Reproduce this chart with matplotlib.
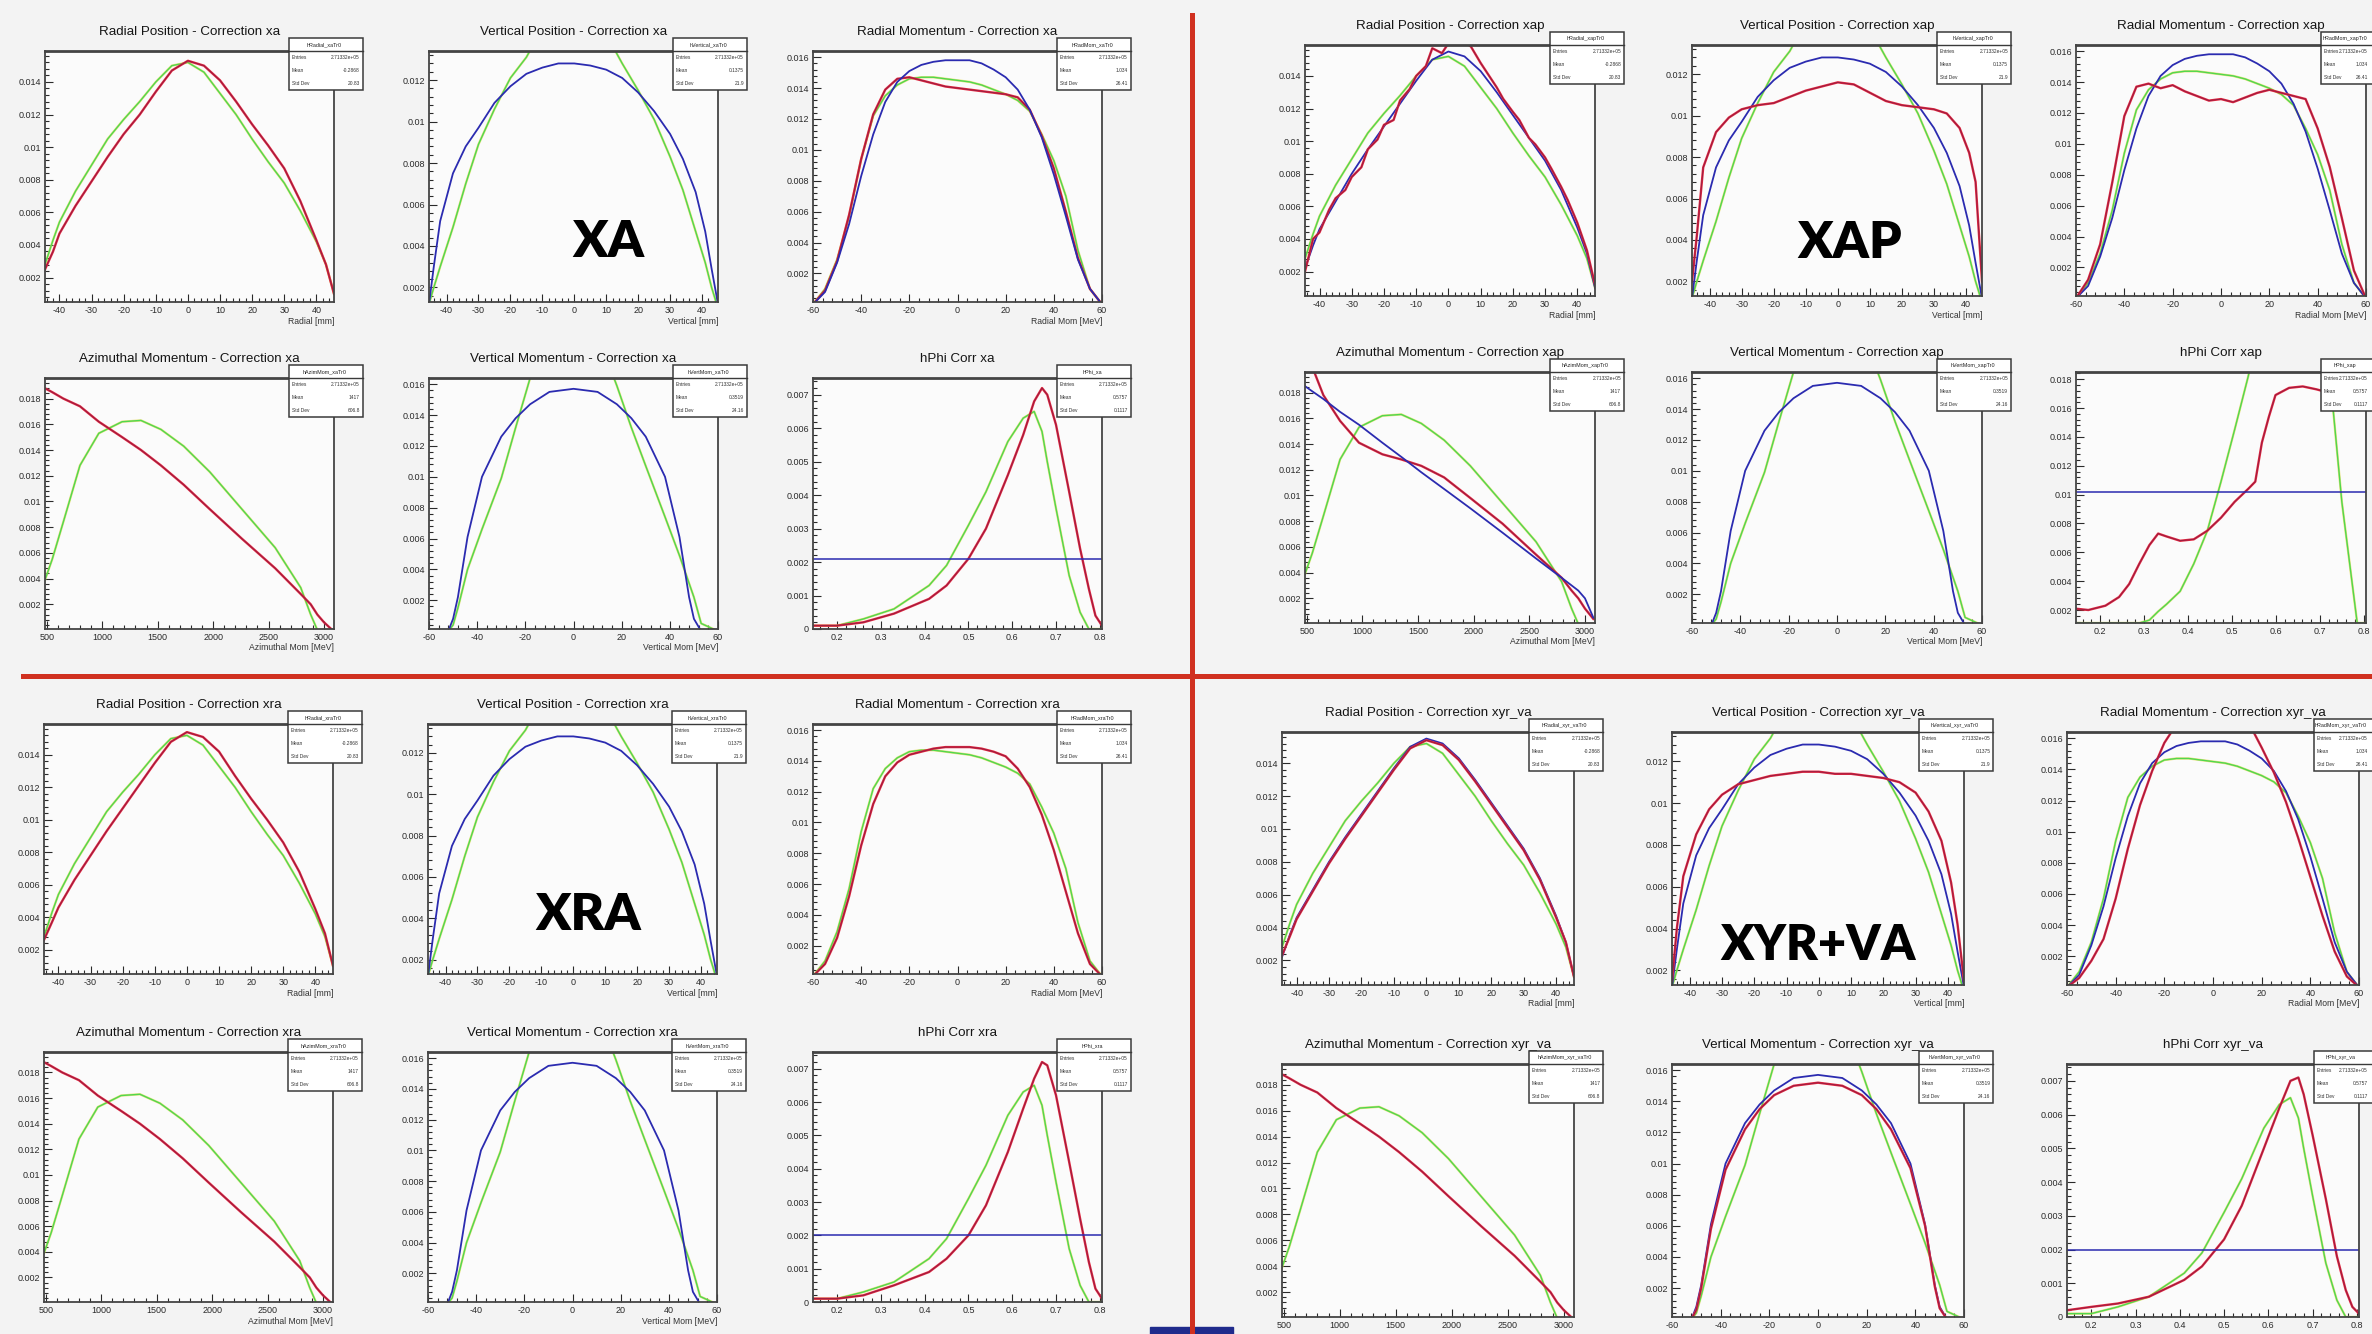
import matplotlib
matplotlib.use("Agg")
import matplotlib.pyplot as plt
from matplotlib.lines import Line2D
from matplotlib.patches import Rectangle
from matplotlib.ticker import AutoMinorLocator, FuncFormatter, MultipleLocator

plt.rcParams["font.family"] = ["Liberation Sans", "DejaVu Sans"]

W, H, DPI = 2372, 1334, 100

# ---------------- histogram contents (normalised) ----------------
# radial position [mm]
rp_x = [-44.5, -42, -40, -35, -30, -25, -20, -15, -10, -5, 0, 5, 10, 15, 20, 25, 30, 35, 40, 43, 45.5]
rp_green = [0.0028, 0.0043, 0.0054, 0.0073, 0.0089, 0.0105, 0.0117, 0.0128, 0.0140, 0.0150, 0.0152,
            0.0146, 0.0133, 0.0120, 0.0105, 0.0091, 0.0078, 0.0061, 0.0042, 0.0028, 0.0010]
rp_blue = [0.0022, 0.0036, 0.0046, 0.0063, 0.0080, 0.0095, 0.0109, 0.0123, 0.0137, 0.0150, 0.0155,
           0.0152, 0.0143, 0.0130, 0.0116, 0.0102, 0.0088, 0.0070, 0.0047, 0.0031, 0.0010]
rp_red_xa = [0.0025, 0.0036, 0.0047, 0.0064, 0.0079, 0.0094, 0.0108, 0.0120, 0.0134, 0.0147, 0.0153,
             0.0150, 0.0141, 0.0128, 0.0114, 0.0101, 0.0087, 0.0067, 0.0043, 0.0028, 0.0010]
rp_red_xra = [0.0026, 0.0037, 0.0046, 0.0063, 0.0078, 0.0093, 0.0107, 0.0121, 0.0135, 0.0148, 0.0154,
              0.0151, 0.0142, 0.0127, 0.0113, 0.0100, 0.0086, 0.0068, 0.0045, 0.0030, 0.0010]
rp_red_xyr = [0.0023, 0.0035, 0.0045, 0.0062, 0.0079, 0.0094, 0.0108, 0.0122, 0.0136, 0.0149, 0.0154,
              0.0151, 0.0142, 0.0129, 0.0115, 0.0101, 0.0087, 0.0069, 0.0046, 0.0031, 0.0010]
rp_xap_x = [-44.5, -42, -40, -37, -35, -32, -30, -27, -25, -22, -20, -17, -15, -12, -10, -7, -5, -2, 0,
            2, 5, 7, 10, 12, 15, 17, 20, 22, 25, 27, 30, 32, 35, 37, 40, 43, 45.5]
rp_red_xap = [0.0020, 0.0040, 0.0044, 0.0058, 0.0065, 0.0070, 0.0078, 0.0084, 0.0095, 0.0101, 0.0110,
              0.0113, 0.0125, 0.0132, 0.0140, 0.0146, 0.0157, 0.0154, 0.0160, 0.0163, 0.0161, 0.0158,
              0.0148, 0.0142, 0.0133, 0.0126, 0.0118, 0.0113, 0.0102, 0.0098, 0.0090, 0.0083, 0.0072,
              0.0064, 0.0050, 0.0033, 0.0012]

# vertical position [mm]
vp_x = [-45.5, -44, -42, -38, -34, -30, -25, -20, -15, -10, -5, 0, 5, 10, 15, 20, 25, 30, 34, 38, 41, 43, 45]
vp_green = [0.0012, 0.0020, 0.0030, 0.0049, 0.0070, 0.0089, 0.0106, 0.0121, 0.0131, 0.0145, 0.0158, 0.0165,
            0.0158, 0.0142, 0.0128, 0.0115, 0.0101, 0.0083, 0.0067, 0.0047, 0.0032, 0.0020, 0.0010]
vp_blue = [0.0012, 0.0030, 0.0052, 0.0075, 0.0088, 0.0097, 0.0109, 0.0117, 0.0123, 0.0126, 0.0128, 0.0128,
           0.0127, 0.0125, 0.0121, 0.0114, 0.0105, 0.0094, 0.0082, 0.0066, 0.0047, 0.0029, 0.0012]
vp_red_xap = [0.0020, 0.0042, 0.0075, 0.0092, 0.0099, 0.0103, 0.0105, 0.0106, 0.0109, 0.0112, 0.0114, 0.0116,
              0.0115, 0.0111, 0.0107, 0.0105, 0.0104, 0.0103, 0.0101, 0.0094, 0.0082, 0.0068, 0.0020]
vp_red_xyr = [0.0015, 0.0040, 0.0065, 0.0085, 0.0097, 0.0104, 0.0109, 0.0111, 0.0113, 0.0114, 0.0115, 0.0115,
              0.0114, 0.0114, 0.0113, 0.0112, 0.0110, 0.0105, 0.0096, 0.0082, 0.0062, 0.0042, 0.0015]

# radial momentum [MeV]
rm_x = [-60, -55, -50, -45, -40, -35, -30, -25, -20, -15, -10, -5, 0, 5, 10, 15, 20, 25, 30, 35, 40, 45, 50, 55, 60]
rm_blue = [0, 0.0008, 0.0027, 0.0052, 0.0083, 0.0110, 0.0131, 0.0144, 0.0151, 0.0155, 0.0157, 0.0158, 0.0158,
           0.0158, 0.0156, 0.0152, 0.0147, 0.0139, 0.0126, 0.0108, 0.0084, 0.0057, 0.0029, 0.0010, 0]
rm_green = [0, 0.0010, 0.0029, 0.0057, 0.0094, 0.0122, 0.0135, 0.0142, 0.0146, 0.0147, 0.0147, 0.0146, 0.0145,
            0.0144, 0.0142, 0.0139, 0.0136, 0.0132, 0.0125, 0.0110, 0.0093, 0.0070, 0.0035, 0.0010, 0]
rm_red_xa = [0, 0.0009, 0.0028, 0.0058, 0.0094, 0.0123, 0.0139, 0.0146, 0.0147, 0.0145, 0.0143, 0.0141, 0.0140,
             0.0139, 0.0138, 0.0137, 0.0136, 0.0134, 0.0126, 0.0109, 0.0088, 0.0060, 0.0030, 0.0010, 0]
rm_red_xap = [0, 0.0012, 0.0035, 0.0075, 0.0118, 0.0137, 0.0139, 0.0136, 0.0138, 0.0134, 0.0131, 0.0128, 0.0129,
              0.0127, 0.0130, 0.0133, 0.0135, 0.0133, 0.0131, 0.0129, 0.0110, 0.0085, 0.0052, 0.0018, 0]
rm_red_xra = [0, 0.0008, 0.0025, 0.0052, 0.0085, 0.0112, 0.0130, 0.0139, 0.0144, 0.0146, 0.0148, 0.0149, 0.0149,
              0.0149, 0.0148, 0.0146, 0.0143, 0.0135, 0.0123, 0.0105, 0.0082, 0.0055, 0.0028, 0.0008, 0]
rm_red_xyr = [0, 0.0006, 0.0017, 0.0031, 0.0057, 0.0089, 0.0117, 0.0139, 0.0157, 0.0169, 0.0176, 0.0180, 0.0181,
              0.0180, 0.0176, 0.0169, 0.0154, 0.0138, 0.0119, 0.0096, 0.0071, 0.0046, 0.0023, 0.0007, 0]

# azimuthal momentum [MeV]
am_x = [485, 550, 650, 800, 970, 1180, 1350, 1530, 1735, 1970, 2260, 2560, 2790, 2880, 2940, 3000, 3075]
am_green = [0.0039, 0.0055, 0.0084, 0.0128, 0.0153, 0.0162, 0.0163, 0.0156, 0.0143, 0.0123, 0.0094, 0.0064,
            0.0033, 0.0012, 0.0, 0.0, 0.0]
am_red = [0.0188, 0.0185, 0.0180, 0.0174, 0.0162, 0.0150, 0.0140, 0.0128, 0.0113, 0.0094, 0.0071, 0.0048,
          0.0028, 0.0020, 0.0012, 0.0006, 0.0]
am_red_xap = [0.0215, 0.0200, 0.0178, 0.0158, 0.0141, 0.0132, 0.0128, 0.0123, 0.0114, 0.0098, 0.0078, 0.0054,
              0.0036, 0.0026, 0.0020, 0.0012, 0.0004]
am_blue_xap = [0.0185, 0.0181, 0.0175, 0.0165, 0.0155, 0.0141, 0.0130, 0.0118, 0.0105, 0.0090, 0.0071, 0.0051,
               0.0036, 0.0030, 0.0026, 0.0020, 0.0005]

# vertical momentum [MeV]
vm_x = [-60, -52, -50, -48, -44, -38, -30, -24, -18, -10, 0, 10, 18, 24, 30, 38, 44, 48, 50, 53, 60]
vm_blue = [0, 0, 0.0008, 0.0022, 0.0061, 0.0100, 0.0126, 0.0138, 0.0147, 0.0155, 0.0157, 0.0155, 0.0147,
           0.0138, 0.0126, 0.0100, 0.0061, 0.0022, 0.0008, 0, 0]
vm_green = [0, 0, 0.0004, 0.0015, 0.0040, 0.0066, 0.0099, 0.0132, 0.0164, 0.0190, 0.0212, 0.0192, 0.0159,
            0.0132, 0.0107, 0.0074, 0.0049, 0.0031, 0.0022, 0.0005, 0]
vm_red_xyr = [0, 0, 0.0006, 0.0020, 0.0058, 0.0096, 0.0122, 0.0135, 0.0144, 0.0150, 0.0152, 0.0150, 0.0144,
              0.0135, 0.0122, 0.0097, 0.0060, 0.0021, 0.0007, 0, 0]

# phi correction
hphi_x = [0.145, 0.2, 0.26, 0.33, 0.41, 0.45, 0.5, 0.54, 0.59, 0.625, 0.65, 0.668, 0.68, 0.70, 0.73, 0.755,
          0.775, 0.79, 0.805]
hphi_green = [0.0001, 0.0001, 0.0003, 0.0006, 0.0013, 0.0019, 0.0031, 0.0041, 0.0056, 0.0063, 0.0065, 0.0059,
              0.0050, 0.0036, 0.0016, 0.0005, 0.0, 0.0, 0.0]
hphi_red_xa = [0.0001, 0.0001, 0.0002, 0.00046, 0.0009, 0.0013, 0.0021, 0.0030, 0.0046, 0.0058, 0.0068, 0.0072,
               0.0070, 0.0061, 0.0041, 0.0024, 0.0012, 0.0004, 0.0001]
hphi_red_xra = [0.0001, 0.0001, 0.0002, 0.0005, 0.0009, 0.0013, 0.0020, 0.0029, 0.0045, 0.0058, 0.0067, 0.0072,
                0.0071, 0.0062, 0.0042, 0.0025, 0.0012, 0.0004, 0.0001]
hphi_red_xyr = [0.0002, 0.0003, 0.0004, 0.0006, 0.0011, 0.0015, 0.0023, 0.0033, 0.0050, 0.0062, 0.0070, 0.0071,
                0.0066, 0.0054, 0.0035, 0.0018, 0.0008, 0.0003, 0.0001]
hphi_level_xa = 0.0021
hphi_level_xra = 0.0020
hphi_level_xyr = 0.0020
hphi_xap_x = [0.142, 0.173, 0.212, 0.243, 0.266, 0.289, 0.312, 0.332, 0.351, 0.382, 0.413, 0.444, 0.475, 0.506,
              0.537, 0.553, 0.568, 0.584, 0.599, 0.630, 0.661, 0.692, 0.716, 0.75, 0.785, 0.815]
hphi_xap_red = [0.0021, 0.0020, 0.0023, 0.0029, 0.0038, 0.0052, 0.0065, 0.0073, 0.0071, 0.0068, 0.0069, 0.0075,
                0.0084, 0.0095, 0.0104, 0.0109, 0.0136, 0.0154, 0.0169, 0.0174, 0.0175, 0.0173, 0.0171, 0.0170,
                0.0169, 0.0168]
hphi_xap_green = [0.0011, 0.0011, 0.0011, 0.0011, 0.0011, 0.0011, 0.0013, 0.0019, 0.0024, 0.0033, 0.0052, 0.0075,
                  0.0109, 0.0145, 0.0182, 0.0205, 0.0230, 0.0260, 0.0280, 0.0300, 0.0290, 0.0260, 0.0205, 0.0095,
                  0.0011, 0.0011]
hphi_level_xap = 0.0102

# ---------------- styling ----------------
RED, DARKRED = "#e2263e", "#7a1a44"
BLUE = "#2b2bb0"
GREEN, YELLOW = "#4fd84f", "#e2d54a"
FRAME = "#444444"

VARS = {
    "rp": dict(title="Radial Position - Correction {}", xlabel="Radial [mm]", stat="hRadial_{}Tr0",
               xlim=(-44.5, 45.5), ylim=(0.0005, 0.0159), xstep=10, ystep=0.002, mean="-0.2868", std="20.83"),
    "vp": dict(title="Vertical Position - Correction {}", xlabel="Vertical [mm]", stat="hVertical_{}Tr0",
               xlim=(-45.5, 45), ylim=(0.0013, 0.0134), xstep=10, ystep=0.002, mean="0.1375", std="21.9"),
    "rm": dict(title="Radial Momentum - Correction {}", xlabel="Radial Mom [MeV]", stat="hRadMom_{}Tr0",
               xlim=(-60, 60), ylim=(0.00015, 0.0164), xstep=20, ystep=0.002, mean="1.034", std="26.41"),
    "am": dict(title="Azimuthal Momentum - Correction {}", xlabel="Azimuthal Mom [MeV]", stat="hAzimMom_{}Tr0",
               xlim=(485, 3090), ylim=(0.00008, 0.0196), xstep=500, ystep=0.002, mean="1417", std="606.8"),
    "vm": dict(title="Vertical Momentum - Correction {}", xlabel="Vertical Mom [MeV]", stat="hVertMom_{}Tr0",
               xlim=(-60, 60), ylim=(0.00014, 0.0164), xstep=20, ystep=0.002, mean="0.3519", std="24.16"),
    "hphi": dict(title="hPhi Corr {}", xlabel="", stat="hPhi_{}",
                 xlim=(0.145, 0.805), ylim=(0, 0.0075), xstep=0.1, ystep=0.001, mean="0.5757", std="0.1117"),
}
ORDER = ["rp", "vp", "rm", "am", "vm", "hphi"]

fig = plt.figure(figsize=(W / DPI, H / DPI), dpi=DPI, facecolor="#f3f3f3")
fmt = FuncFormatter(lambda v, p: f"{v:g}")


def draw_curve(ax, kind, x, y):
    if kind == "green":
        ax.plot(x, y, color=YELLOW, lw=1.7, alpha=0.7, solid_joinstyle="round")
        ax.plot(x, y, color=GREEN, lw=1.0)
    elif kind == "red":
        ax.plot(x, y, color=RED, lw=1.7)
        ax.plot(x, y, color=DARKRED, lw=0.6, alpha=0.8)
    else:
        ax.plot(x, y, color=BLUE, lw=1.3)


def stats_box(ax, name, mean, std, left, w):
    tr = ax.transAxes
    ax.add_patch(Rectangle((0.845, 0.845), 0.255, 0.207, transform=tr, facecolor="white",
                           edgecolor="#3a3a3a", lw=1.1, zorder=20, clip_on=False))
    ax.plot([0.845, 1.1], [1.0, 1.0], transform=tr, color="#3a3a3a", lw=1.0, zorder=21, clip_on=False)
    # keep the box text inside the canvas when the box runs past the right edge
    right = min(1.09, (W - 4 - left) / w)
    ax.text((0.845 + right) / 2, 1.026, name, transform=tr, ha="center", va="center", fontsize=3.9,
            color="#222", zorder=22, clip_on=False)
    rows = [("Entries", "2.71332e+05"), ("Mean", mean), ("Std Dev", std)]
    for i, (k, v) in enumerate(rows):
        y = 0.974 - i * 0.052
        ax.text(0.855, y, k, transform=tr, ha="left", va="center", fontsize=3.5, color="#333", zorder=22)
        ax.text(right, y, v, transform=tr, ha="right", va="center", fontsize=3.5, color="#333", zorder=22)


def panel(box, var, tag, curves, level=None, ylim=None):
    left, top, w, h = box
    cfg = VARS[var]
    ax = fig.add_axes([left / W, 1 - (top + h) / H, w / W, h / H])
    ax.set_facecolor("#fbfbfb")
    for kind, x, y in curves:
        draw_curve(ax, kind, x, y)
    if level is not None:
        ax.axhline(level, color=BLUE, lw=1.1)
    ax.set_xlim(*cfg["xlim"])
    ax.set_ylim(*(ylim or cfg["ylim"]))
    ax.xaxis.set_major_locator(MultipleLocator(cfg["xstep"]))
    ax.yaxis.set_major_locator(MultipleLocator(cfg["ystep"]))
    ax.xaxis.set_minor_locator(AutoMinorLocator(5))
    ax.yaxis.set_minor_locator(AutoMinorLocator(5))
    ax.xaxis.set_major_formatter(fmt)
    ax.yaxis.set_major_formatter(fmt)
    ax.tick_params(which="both", direction="in", top=False, right=False, colors="#2a2a2a", width=0.8)
    ax.tick_params(which="major", length=6, labelsize=6.5, pad=3)
    ax.tick_params(which="minor", length=3)
    for side, sp in ax.spines.items():
        sp.set_color(FRAME)
        sp.set_linewidth(2.0 if side == "top" else 1.3)
    ax.text(0.5, 1 + 19 / h, cfg["title"].format(tag), transform=ax.transAxes,
            ha="center", va="center", fontsize=9.6, color="#151515")
    # axis title sits under the tick labels; it falls off the canvas on the bottom row
    if cfg["xlabel"] and top + h + 25 < H:
        ax.text(1.0, -19 / h, cfg["xlabel"], transform=ax.transAxes,
                ha="right", va="center", fontsize=6.2, color="#333")
    stats_box(ax, cfg["stat"].format(tag), cfg["mean"], cfg["std"], left, w)
    return ax


def grid(cols, rows, w, h):
    return {v: (cols[i % 3], rows[i // 3], w, h) for i, v in enumerate(ORDER)}


# ---- XA ----
g = grid([45, 429, 813], [51, 378], 289, 251)
panel(g["rp"], "rp", "xa", [("green", rp_x, rp_green), ("red", rp_x, rp_red_xa)])
panel(g["vp"], "vp", "xa", [("green", vp_x, vp_green), ("blue", vp_x, vp_blue)])
panel(g["rm"], "rm", "xa", [("green", rm_x, rm_green), ("red", rm_x, rm_red_xa), ("blue", rm_x, rm_blue)])
panel(g["am"], "am", "xa", [("green", am_x, am_green), ("red", am_x, am_red)])
panel(g["vm"], "vm", "xa", [("green", vm_x, vm_green), ("blue", vm_x, vm_blue)])
panel(g["hphi"], "hphi", "xa", [("green", hphi_x, hphi_green), ("red", hphi_x, hphi_red_xa)],
      level=hphi_level_xa)

# ---- XAP ----
g = grid([1305, 1692, 2076], [45, 372], 290, 251)
panel(g["rp"], "rp", "xap", [("green", rp_x, rp_green), ("blue", rp_x, rp_blue), ("red", rp_xap_x, rp_red_xap)])
panel(g["vp"], "vp", "xap", [("green", vp_x, vp_green), ("blue", vp_x, vp_blue), ("red", vp_x, vp_red_xap)])
panel(g["rm"], "rm", "xap", [("green", rm_x, rm_green), ("blue", rm_x, rm_blue), ("red", rm_x, rm_red_xap)])
panel(g["am"], "am", "xap", [("green", am_x, am_green), ("red", am_x, am_red_xap), ("blue", am_x, am_blue_xap)])
panel(g["vm"], "vm", "xap", [("green", vm_x, vm_green), ("blue", vm_x, vm_blue)])
ax = panel(g["hphi"], "hphi", "xap", [("green", hphi_xap_x, hphi_xap_green), ("red", hphi_xap_x, hphi_xap_red)],
           level=hphi_level_xap, ylim=(0.0011, 0.0185))
ax.yaxis.set_major_locator(MultipleLocator(0.002))

# ---- XRA ----
g = grid([44, 428, 813], [724, 1052], 289, 250)
panel(g["rp"], "rp", "xra", [("green", rp_x, rp_green), ("red", rp_x, rp_red_xra)])
panel(g["vp"], "vp", "xra", [("green", vp_x, vp_green), ("blue", vp_x, vp_blue)])
panel(g["rm"], "rm", "xra", [("green", rm_x, rm_green), ("red", rm_x, rm_red_xra)])
panel(g["am"], "am", "xra", [("green", am_x, am_green), ("red", am_x, am_red)])
panel(g["vm"], "vm", "xra", [("green", vm_x, vm_green), ("blue", vm_x, vm_blue)])
panel(g["hphi"], "hphi", "xra", [("green", hphi_x, hphi_green), ("red", hphi_x, hphi_red_xra)],
      level=hphi_level_xra)

# ---- XYR+VA ----
g = grid([1282, 1672, 2067], [732, 1064], 292, 253)
panel(g["rp"], "rp", "xyr_va", [("green", rp_x, rp_green), ("blue", rp_x, rp_blue), ("red", rp_x, rp_red_xyr)])
panel(g["vp"], "vp", "xyr_va", [("green", vp_x, vp_green), ("blue", vp_x, vp_blue), ("red", vp_x, vp_red_xyr)])
panel(g["rm"], "rm", "xyr_va", [("green", rm_x, rm_green), ("blue", rm_x, rm_blue), ("red", rm_x, rm_red_xyr)])
panel(g["am"], "am", "xyr_va", [("green", am_x, am_green), ("red", am_x, am_red)])
panel(g["vm"], "vm", "xyr_va", [("green", vm_x, vm_green), ("blue", vm_x, vm_blue), ("red", vm_x, vm_red_xyr)])
panel(g["hphi"], "hphi", "xyr_va", [("green", hphi_x, hphi_green), ("red", hphi_x, hphi_red_xyr)],
      level=hphi_level_xyr)

# quadrant dividers
fig.add_artist(Line2D([23 / W, 1], [1 - 676 / H] * 2, color="#d0301f", lw=3.6, transform=fig.transFigure))
fig.add_artist(Line2D([1192 / W] * 2, [0, 1 - 15 / H], color="#d0301f", lw=3.6, transform=fig.transFigure))
fig.add_artist(Rectangle((1150 / W, 0), 83 / W, 7 / H, color="#1f2b8c", transform=fig.transFigure))

# correction labels
for txt, x, y, size in [("XA", 608, 257, 37), ("XAP", 1850, 258, 37), ("XRA", 588, 930, 37),
                        ("XYR+VA", 1818, 960, 35)]:
    fig.text(x / W, 1 - y / H, txt, ha="center", va="baseline", fontsize=size,
             family=["Lato", "DejaVu Sans"], fontweight="heavy", color="black", zorder=30)

fig.savefig("out.png", dpi=DPI, facecolor=fig.get_facecolor())
